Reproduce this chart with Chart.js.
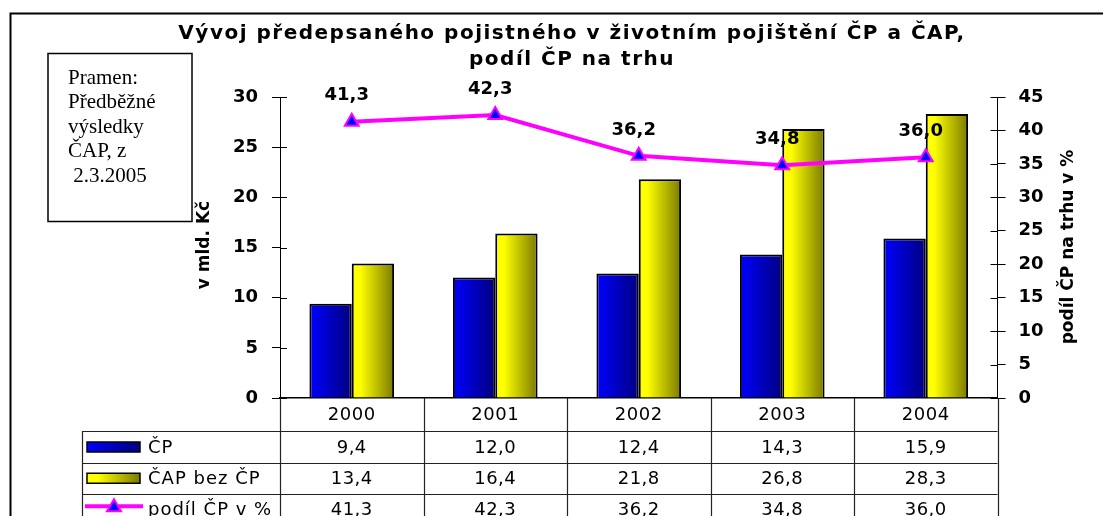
<!DOCTYPE html>
<html>
<head>
<meta charset="utf-8">
<script src="https://cdn.jsdelivr.net/npm/chart.js@4/dist/chart.umd.min.js"></script>
<style>
  html, body { margin: 0; padding: 0; background: #fff; }
  #wrap { width: 1103px; height: 516px; position: relative; }
</style>
</head>
<body>
<div id="wrap"><canvas id="c" width="1103" height="516"></canvas></div>
<script>
// ---- data ----
const years = ['2000', '2001', '2002', '2003', '2004'];
const cpValues = [9.4, 12.0, 12.4, 14.3, 15.9];
const capValues = [13.4, 16.4, 21.8, 26.8, 28.3];
const shareValues = [41.3, 42.3, 36.2, 34.8, 36.0];
const seriesNames = ['ČP', 'ČAP bez ČP', 'podíl ČP v %'];
const titleLines = ['Vývoj předepsaného pojistného v životním pojištění ČP a ČAP,', 'podíl ČP na trhu'];
const sourceLines = ['Pramen:', 'Předběžné', 'výsledky', 'ČAP, z', ' 2.3.2005'];
const leftAxisTitle = 'v mld. Kč';
const rightAxisTitle = 'podíl ČP na trhu v %';

const fmt = v => v.toFixed(1).replace('.', ',');

const BOLD = 'DejaVu Sans, Arial, sans-serif';
const CAT_PCT = 0.59;

function barGradient(ctx, dsIndex, c1, c2, brightStop) {
  const chart = ctx.chart;
  const xs = chart.scales && chart.scales.x;
  if (!xs || ctx.dataIndex === undefined || !chart.chartArea) return c1;
  const cx = xs.getPixelForValue(ctx.dataIndex);
  const catW = (xs.right - xs.left) / years.length;
  const bw = catW * CAT_PCT / 2;
  const left = dsIndex === 0 ? cx - bw : cx;
  const g = chart.ctx.createLinearGradient(left, 0, left + bw, 0);
  g.addColorStop(0, c1);
  g.addColorStop(brightStop, c1);
  g.addColorStop(1, c2);
  return g;
}

function spaced(ctx, px) {
  if ('letterSpacing' in ctx) ctx.letterSpacing = px + 'px';
}

const decoPlugin = {
  id: 'deco',
  afterDraw(chart) {
    const ctx = chart.ctx;
    const ca = chart.chartArea;
    const xs = chart.scales.x, yl = chart.scales.y, yr = chart.scales.y1;
    ctx.save();

    // outer border
    ctx.strokeStyle = '#000';
    ctx.lineWidth = 2;
    ctx.beginPath();
    ctx.moveTo(1103, 13.5); ctx.lineTo(10.5, 13.5); ctx.lineTo(10.5, 516);
    ctx.stroke();

    // title
    ctx.fillStyle = '#000';
    ctx.textAlign = 'center';
    ctx.textBaseline = 'middle';
    ctx.font = 'bold 20px ' + BOLD;
    spaced(ctx, 1.5);
    ctx.fillText(titleLines[0], 572, 34);
    ctx.fillText(titleLines[1], 572, 60);
    spaced(ctx, 0);

    // source box
    ctx.lineWidth = 1.5;
    ctx.strokeRect(48, 53.5, 144, 168);
    ctx.font = '21px "Liberation Serif", "Times New Roman", serif';
    ctx.textAlign = 'left';
    sourceLines.forEach((s, i) => ctx.fillText(s, 68, 78 + i * 24.5));

    // axis titles
    ctx.font = 'bold 17px ' + BOLD;
    ctx.textAlign = 'center';
    ctx.save();
    ctx.translate(205, 245);
    ctx.rotate(-Math.PI / 2);
    ctx.fillText(leftAxisTitle, 0, 0);
    ctx.restore();
    ctx.save();
    ctx.translate(1069, 247);
    ctx.rotate(-Math.PI / 2);
    ctx.fillText(rightAxisTitle, 0, 0);
    ctx.restore();

    // inner tick parts
    ctx.strokeStyle = '#000';
    ctx.lineWidth = 1;
    yl.ticks.forEach(t => {
      const y = Math.round(yl.getPixelForValue(t.value)) + 0.5;
      ctx.beginPath(); ctx.moveTo(ca.left, y); ctx.lineTo(ca.left + 7, y); ctx.stroke();
    });
    yr.ticks.forEach(t => {
      const y = Math.round(yr.getPixelForValue(t.value)) + 0.5;
      ctx.beginPath(); ctx.moveTo(ca.right - 7, y); ctx.lineTo(ca.right, y); ctx.stroke();
    });

    // data table
    const catW = (xs.right - xs.left) / years.length;
    const tLeft = 82, tRight = ca.right;
    const rowY = [ca.bottom, 431, 463, 493.5, 525];
    ctx.strokeStyle = '#222';
    ctx.lineWidth = 1.2;
    for (let i = 0; i <= years.length; i++) {
      const x = Math.round(xs.left + i * catW) + 0.5;
      ctx.beginPath(); ctx.moveTo(x, ca.bottom); ctx.lineTo(x, 516); ctx.stroke();
    }
    ctx.beginPath(); ctx.moveTo(tLeft + 0.5, rowY[1]); ctx.lineTo(tLeft + 0.5, 516); ctx.stroke();
    [rowY[1], rowY[2], rowY[3]].forEach(y => {
      ctx.beginPath(); ctx.moveTo(tLeft, Math.round(y) + 0.5); ctx.lineTo(tRight, Math.round(y) + 0.5); ctx.stroke();
    });
    ctx.fillStyle = '#000';
    ctx.font = '18px ' + BOLD;
    ctx.textAlign = 'center';
    spaced(ctx, 0.5);
    years.forEach((yv, i) => ctx.fillText(yv, xs.getPixelForValue(i), (rowY[0] + rowY[1]) / 2 + 1));
    const rows = [cpValues, capValues, shareValues];
    rows.forEach((arr, r) => {
      const yc = (rowY[r + 1] + rowY[r + 2]) / 2 + 1;
      arr.forEach((v, i) => ctx.fillText(fmt(v), xs.getPixelForValue(i), yc));
    });
    // legend keys
    ctx.textAlign = 'left';
    spaced(ctx, 1);
    const keyX = 87, keyW = 53, keyH = 10;
    [[ '#0000FF', '#000080', 0], ['#FFFF00', '#7A7A00', 0.2]].forEach((c, r) => {
      const yc = (rowY[r + 1] + rowY[r + 2]) / 2;
      const g = ctx.createLinearGradient(keyX, 0, keyX + keyW, 0);
      g.addColorStop(0, c[0]); g.addColorStop(c[2], c[0]); g.addColorStop(1, c[1]);
      ctx.fillStyle = g;
      ctx.fillRect(keyX, yc - keyH / 2, keyW, keyH);
      ctx.strokeStyle = '#000'; ctx.lineWidth = 1.5;
      ctx.strokeRect(keyX, yc - keyH / 2, keyW, keyH);
      ctx.fillStyle = '#000';
      ctx.fillText(seriesNames[r], 148, yc + 1);
    });
    {
      const yc = (rowY[3] + rowY[4]) / 2 - 3;
      ctx.strokeStyle = '#FF00FF'; ctx.lineWidth = 4;
      ctx.beginPath(); ctx.moveTo(85, yc); ctx.lineTo(143, yc); ctx.stroke();
      ctx.fillStyle = '#0000FF'; ctx.lineWidth = 2;
      ctx.beginPath(); ctx.moveTo(114, yc - 7); ctx.lineTo(121, yc + 5); ctx.lineTo(107, yc + 5); ctx.closePath();
      ctx.fill(); ctx.stroke();
      ctx.fillStyle = '#000';
      ctx.fillText(seriesNames[2], 148, yc + 4);
    }
    spaced(ctx, 0);

    // data labels on line
    const meta = chart.getDatasetMeta(2);
    ctx.font = 'bold 18px ' + BOLD;
    ctx.textAlign = 'center';
    ctx.fillStyle = '#000';
    meta.data.forEach((pt, i) => {
      ctx.fillText(fmt(shareValues[i]), pt.x - 5, pt.y - 26);
    });

    ctx.restore();
  }
};

new Chart(document.getElementById('c'), {
  data: {
    labels: years,
    datasets: [
      {
        type: 'bar',
        label: seriesNames[0],
        data: cpValues,
        yAxisID: 'y',
        order: 2,
        backgroundColor: ctx => barGradient(ctx, 0, '#0000FF', '#000080', 0),
        borderColor: '#000',
        borderWidth: 2,
        categoryPercentage: CAT_PCT,
        barPercentage: 1.0
      },
      {
        type: 'bar',
        label: seriesNames[1],
        data: capValues,
        yAxisID: 'y',
        order: 2,
        backgroundColor: ctx => barGradient(ctx, 1, '#FFFF00', '#7A7A00', 0.2),
        borderColor: '#000',
        borderWidth: 2,
        categoryPercentage: CAT_PCT,
        barPercentage: 1.0
      },
      {
        type: 'line',
        label: seriesNames[2],
        data: shareValues,
        yAxisID: 'y1',
        order: 0,
        borderColor: '#FF00FF',
        borderWidth: 4,
        pointStyle: 'triangle',
        pointRadius: 8,
        pointBackgroundColor: '#0000FF',
        pointBorderColor: '#FF00FF',
        pointBorderWidth: 2,
        tension: 0
      }
    ]
  },
  options: {
    responsive: false,
    animation: false,
    devicePixelRatio: 1,
    layout: { padding: { left: 0, right: 0, top: 97, bottom: 0 } },
    plugins: {
      legend: { display: false },
      title: { display: false },
      tooltip: { enabled: false }
    },
    scales: {
      x: {
        type: 'category',
        offset: true,
        grid: { display: false, drawTicks: false },
        ticks: { display: false },
        border: { display: true, color: '#000', width: 1.5 },
        afterFit: s => { s.height = 516 - 398; }
      },
      y: {
        position: 'left',
        min: 0, max: 30,
        ticks: { stepSize: 5, padding: 14, color: '#000', font: { family: BOLD, size: 18, weight: 'bold' } },
        grid: { drawOnChartArea: false, drawTicks: true, tickLength: 8, color: '#000', lineWidth: 1 },
        border: { display: true, color: '#000', width: 1 },
        afterFit: s => { s.width = 280; }
      },
      y1: {
        position: 'right',
        min: 0, max: 45,
        ticks: { stepSize: 5, padding: 13, color: '#000', font: { family: BOLD, size: 18, weight: 'bold' } },
        grid: { drawOnChartArea: false, drawTicks: true, tickLength: 8, color: '#000', lineWidth: 1 },
        border: { display: true, color: '#000', width: 1 },
        afterFit: s => { s.width = 1103 - 997.5; }
      }
    }
  },
  plugins: [decoPlugin]
});
</script>
</body>
</html>
